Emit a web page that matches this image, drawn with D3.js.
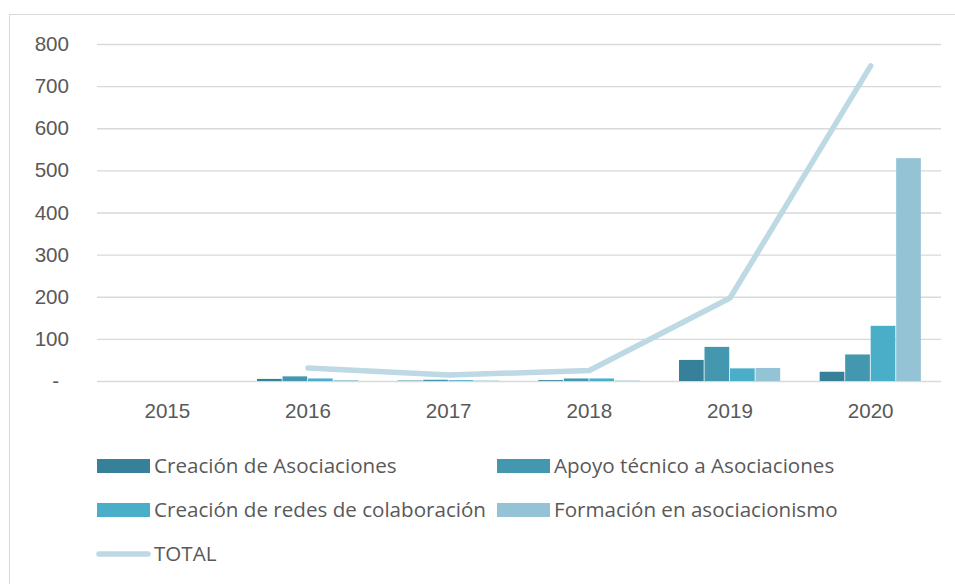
<!DOCTYPE html>
<html><head><meta charset="utf-8">
<script src="https://cdn.jsdelivr.net/npm/d3@7"></script>
<style>body{margin:0;background:#fff;}svg{display:block;font-family:"Open Sans", Lato, sans-serif;}</style>
</head><body><svg id="c" width="955" height="584"></svg>
<script>
const years = ["2015","2016","2017","2018","2019","2020"];
const seriesNames = ["Creación de Asociaciones","Apoyo técnico a Asociaciones","Creación de redes de colaboración","Formación en asociacionismo"];
const creacion  = [0, 5, 1, 2, 50, 22];
const apoyo     = [0, 11, 3, 6, 81, 63];
const redes     = [0, 6, 2, 6, 30, 131];
const formacion = [0, 2, 1, 1, 31, 529];
const totalYears = ["2016","2017","2018","2019","2020"];
const total     = [31, 14, 25, 197, 748];
const yTicks = [0,100,200,300,400,500,600,700,800];
const colors = ["#37809A","#4398B0","#4BAEC8","#93C3D5"];
const lineColor = "#BDD9E4";
const FS = 20.6;

const svg = d3.select("#c");
const m = {l:97, r:14};
const W = 955;
const x = d3.scaleBand().domain(years).range([m.l, W-m.r]);
const y = d3.scaleLinear().domain([0,800]).range([381, 44]);
const inner = d3.scaleBand().domain(seriesNames).range([0, 102]);

svg.append("rect").attr("x",9.5).attr("y",14.5).attr("width",960).attr("height",600)
  .attr("fill","none").attr("stroke","#D9D9D9").attr("stroke-width",1);

const yAxis = d3.axisLeft(y).tickValues(yTicks).tickSize(-(W-m.r-m.l))
  .tickFormat(d => d===0 ? "-" : d3.format("d")(d));
const ga = svg.append("g").attr("transform",`translate(${m.l},0)`).call(yAxis);
ga.select(".domain").remove();
ga.selectAll(".tick line").attr("stroke","#D9D9D9").attr("stroke-width",1.3);
ga.selectAll(".tick text").attr("fill","#595959").attr("font-size",FS).attr("text-anchor","end")
  .attr("x", d => d===0 ? -38 : -28);

const xAxis = d3.axisBottom(x).tickSize(0).tickPadding(22);
const gx = svg.append("g").attr("transform",`translate(0,381)`).call(xAxis);
gx.select(".domain").remove();
gx.selectAll(".tick text").attr("fill","#595959").attr("font-size",FS);

const allSeries = [creacion, apoyo, redes, formacion];
allSeries.forEach((vals, si) => {
  svg.append("g").selectAll("rect").data(vals).join("rect")
    .attr("x",(d,i)=> x(years[i]) + (x.bandwidth()-102)/2 + inner(seriesNames[si]))
    .attr("width", inner.bandwidth()-0.8)
    .attr("y", d => y(d))
    .attr("height", d => y(0)-y(d))
    .attr("fill", colors[si]);
});

const line = d3.line().x((d,i)=> x(totalYears[i]) + x.bandwidth()/2).y(d => y(d));
svg.append("path").datum(total).attr("d", line).attr("fill","none")
  .attr("stroke", lineColor).attr("stroke-width",5.5).attr("stroke-linecap","round").attr("stroke-linejoin","round");

const leg = [
  {name: seriesNames[0], c: colors[0], x: 97, y: 466},
  {name: seriesNames[1], c: colors[1], x: 497, y: 466},
  {name: seriesNames[2], c: colors[2], x: 97, y: 510},
  {name: seriesNames[3], c: colors[3], x: 497, y: 510}
];
const lg = svg.append("g");
leg.forEach(d => {
  lg.append("rect").attr("x",d.x).attr("y",d.y-7).attr("width",53).attr("height",14).attr("fill",d.c);
  lg.append("text").attr("x",d.x+57).attr("y",d.y).attr("dy","0.35em").attr("fill","#595959")
    .attr("font-size",FS).text(d.name);
});
lg.append("line").attr("x1",99).attr("x2",148).attr("y1",554).attr("y2",554)
  .attr("stroke",lineColor).attr("stroke-width",5.5).attr("stroke-linecap","round");
lg.append("text").attr("x",154).attr("y",554).attr("dy","0.35em").attr("fill","#595959")
  .attr("font-size",FS).text("TOTAL");
</script></body></html>
